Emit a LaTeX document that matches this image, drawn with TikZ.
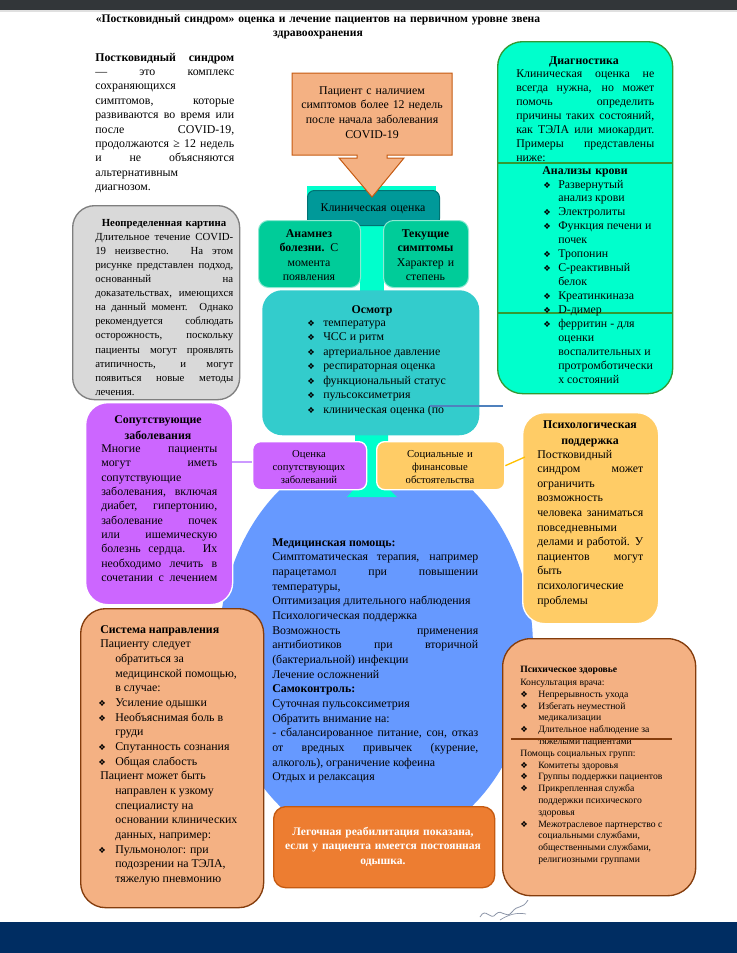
\documentclass[tikz,border=0pt]{standalone}
\usepackage{fontspec}
\setmainfont{Liberation Serif}
\newfontfamily\dejavu{DejaVu Sans}
\usetikzlibrary{positioning}

\definecolor{topbar}{HTML}{323639}
\definecolor{botbar}{HTML}{002D62}
\definecolor{aqua}{HTML}{00FFCC}
\definecolor{tealc}{HTML}{009999}
\definecolor{seag}{HTML}{00CC99}
\definecolor{turq}{HTML}{33CCCC}
\definecolor{leaf}{HTML}{339933}
\definecolor{greyf}{HTML}{D9D9D9}
\definecolor{greyd}{HTML}{7F7F7F}
\definecolor{purp}{HTML}{CC66FF}
\definecolor{lilac}{HTML}{CC99FF}
\definecolor{yell}{HTML}{FFCC66}
\definecolor{gold}{HTML}{FFC000}
\definecolor{bluef}{HTML}{6699FF}
\definecolor{steel}{HTML}{4F81BD}
\definecolor{peach}{HTML}{F4B183}
\definecolor{rust}{HTML}{843C0C}
\definecolor{orng}{HTML}{ED7D31}
\definecolor{orngd}{HTML}{C55A11}
\definecolor{ink}{HTML}{8A93A6}

\newlength\px
\setlength\px{0.75pt}
\newcommand\bul{{\dejavu\fontsize{6.3}{6.3}\selectfont ❖}}
\newcommand\fbody{\fontsize{8.9}{10.9}\selectfont}
\newcommand\fgrey{\fontsize{8.1}{10.6}\selectfont}
\newcommand\fsm{\fontsize{8}{9.9}\selectfont}
\newcommand\ftiny{\fontsize{7.25}{8.85}\selectfont}
\hbadness=10000
\hfuzz=4pt

\begin{document}
\begin{tikzpicture}[x=0.75pt, y=-0.75pt,
	box/.style={anchor=north west, inner sep=0pt, rounded corners=#1},
	para/.style={anchor=base west, inner sep=0pt, align=justify, text width=#1},
	lst/.style={anchor=base west, inner sep=0pt},
	ttl/.style={anchor=base, inner sep=0pt, align=center, text width=#1}]
	\useasboundingbox (0,0) rectangle (737,953);
	\fill[white] (0,0) rectangle (737,953);
	\fill[topbar] (0,0) rectangle (737,10);
	\fill[black!12] (0,10) rectangle (737,12);
	\fill[botbar] (0,922) rectangle (737,953);

	% title and definition
	\node[ttl=480\px, font=\fontsize{8.7}{11.2}\selectfont\bfseries] (title) at (318,22)
		{«Постковидный синдром» оценка и лечение пациентов на первичном уровне звена\\здравоохранения};
	\node[para=139\px, font=\fontsize{8.9}{10.8}\selectfont] (defn) at (95,61)
		{\textbf{Постковидный синдром}\linebreak — это комплекс\linebreak сохраняющихся\linebreak симптомов, которые\linebreak развиваются во время или\linebreak после COVID-19,\linebreak продолжаются ≥ 12 недель\linebreak и не объясняются\linebreak альтернативным\linebreak диагнозом.};

	% medical help (behind)
	\fill[bluef] (376,648) ellipse [x radius=157, y radius=200];
	\fill[aqua] (307,186) rectangle (436,232);
	\fill[aqua] (360,225) rectangle (384,300);
	\fill[aqua] (355,430) -- (388,430) -- (388,488) -- (397,497) -- (347,497) -- (355,488) -- cycle;

	% clinical assessment
	\node[box=7\px, fill=tealc, draw=tealc!75!black, line width=0.75pt, minimum width=132\px, minimum height=35\px] (clin) at (307,190) {};
	\node[ttl=130\px, font=\fbody] (clint) at (373,211) {Клиническая оценка};
	\node[box=10\px, fill=seag, draw=white!55!seag, line width=0.75pt, minimum width=102\px, minimum height=67\px] (anam) at (258,220) {};
	\node[ttl=100\px, font=\fbody] (anamt) at (309,237) {\textbf{Анамнез}\\\textbf{болезни.} С\\момента\\появления};
	\node[box=10\px, fill=seag, draw=white!55!seag, line width=0.75pt, minimum width=85\px, minimum height=67\px] (symp) at (383,220) {};
	\node[ttl=85\px, font=\fbody] (sympt) at (425.5,237) {\textbf{Текущие}\\\textbf{симптомы}\\Характер и\\степень};

	% patient
	\draw[fill=peach, draw=orngd, line width=0.75pt] (292,73) -- (452,73) -- (452,155) -- (387,155) -- (387,158)
		-- (404,158) -- (372,197) -- (339,158) -- (357,158) -- (357,155) -- (292,155) -- cycle;
	\node[ttl=160\px, font=\fontsize{8.9}{11}\selectfont] (pat) at (372,94) {Пациент с наличием\\симптомов более 12 недель\\после начала заболевания\\COVID-19};

	% examination
	\node[box=20\px, fill=turq, minimum width=217\px, minimum height=145\px] (exam) at (262,290) {};
	\node[ttl=200\px, font=\fbody\bfseries] (examt) at (372,313) {Осмотр};
	\node[lst, font=\fbody] (examl) at (307,326) {\begin{tabular}[t]{@{}p{16\px}@{}l@{}}
		\bul & температура\\
		\bul & ЧСС и ритм\\
		\bul & артериальное давление\\
		\bul & респираторная оценка\\
		\bul & функциональный статус\\
		\bul & пульсоксиметрия\\
		\bul & клиническая оценка (по
	\end{tabular}};
	\coordinate (ex1) at (430,406);
	\coordinate (dg1) at (503,406);
	\draw[steel, line width=0.9pt] (ex1) -- (dg1);

	% diagnostics
	\node[box=25\px, fill=aqua, draw=leaf, line width=1pt, minimum width=175\px, minimum height=352\px] (diag) at (497,41) {};
	\draw[leaf, line width=1.2pt] (diag.west |- 0,163) -- (diag.east |- 0,163);
	\draw[leaf, line width=1.2pt] (diag.west |- 0,313) -- (diag.east |- 0,313);
	\node[ttl=170\px, font=\fbody\bfseries] (diagt) at (584,64) {Диагностика};
	\node[para=138\px, font=\fontsize{8.9}{10.55}\selectfont] (diagp) at (516,77)
		{Клиническая оценка не\linebreak всегда нужна, но может\linebreak помочь определить\linebreak причины таких состояний,\linebreak как ТЭЛА или миокардит.\linebreak Примеры представлены\linebreak ниже:};
	\node[ttl=150\px, font=\fbody\bfseries] (bloodt) at (585,174) {Анализы крови};
	\node[lst, font=\fontsize{8.9}{10.45}\selectfont] (bloodl) at (543,188) {\begin{tabular}[t]{@{}p{15\px}@{}l@{}}
		\bul & Развернутый\\
		& анализ крови\\
		\bul & Электролиты\\
		\bul & Функция печени и\\
		& почек\\
		\bul & Тропонин\\
		\bul & С-реактивный\\
		& белок\\
		\bul & Креатинкиназа\\
		\bul & D-димер\\
		\bul & ферритин - для\\
		& оценки\\
		& воспалительных и\\
		& протромботически\\
		& х состояний
	\end{tabular}};

	% uncertain picture
	\node[box=22\px, fill=greyf, draw=greyd, line width=1pt, minimum width=167\px, minimum height=194\px] (uncl) at (72,205) {};
	\node[ttl=160\px, font=\fgrey\bfseries] (unclt) at (164,226) {Неопределенная картина};
	\node[para=138\px, font=\fgrey] (unclp) at (95,240)
		{Длительное течение COVID-\linebreak 19 неизвестно. На этом\linebreak рисунке представлен подход,\linebreak основанный на\linebreak доказательствах, имеющихся\linebreak на данный момент. Однако\linebreak рекомендуется соблюдать\linebreak осторожность, поскольку\linebreak пациенты могут проявлять\linebreak атипичность, и могут\linebreak появиться новые методы\linebreak лечения.};

	% comorbidities
	\node[box=22\px, fill=purp, draw=white, line width=1pt, minimum width=147\px, minimum height=202\px] (comorb) at (85,402) {};
	\node[ttl=140\px, font=\fontsize{8.9}{12}\selectfont\bfseries] (comorbt) at (158,423) {Сопутствующие\\заболевания};
	\node[para=116\px, font=\fontsize{8.9}{10.75}\selectfont] (comorbp) at (101,452.5)
		{Многие пациенты\linebreak могут иметь\linebreak сопутствующие\linebreak заболевания, включая\linebreak диабет, гипертонию,\linebreak заболевание почек\linebreak или ишемическую\linebreak болезнь сердца. Их\linebreak необходимо лечить в\linebreak сочетании с лечением\linebreak\null};
	\node[box=8\px, fill=purp, draw=white, line width=1pt, minimum width=114\px, minimum height=48\px] (cmbval) at (252,441) {};
	\node[ttl=110\px, font=\fsm] (cmbvalt) at (309,457) {Оценка\\сопутствующих\\заболеваний};
	\coordinate (cm1) at (232,462);
	\draw[lilac, line width=1pt] (cm1) -- (cmbval.west |- cm1);

	% social
	\node[box=8\px, fill=yell, draw=white, line width=1pt, minimum width=128\px, minimum height=48\px] (soc) at (376,441) {};
	\node[ttl=125\px, font=\fsm] (soct) at (440,457) {Социальные и\\финансовые\\обстоятельства};

	% psychological support
	\node[box=22\px, fill=yell, draw=white, line width=1pt, minimum width=136\px, minimum height=211\px] (psy) at (522,412) {};
	\node[ttl=130\px, font=\fontsize{8.9}{12}\selectfont\bfseries] (psyt) at (590,428) {Психологическая\\поддержка};
	\node[para=106\px, font=\fontsize{8.9}{10.95}\selectfont] (psyp) at (537,458)
		{Постковидный\linebreak синдром может\linebreak ограничить\linebreak возможность\linebreak человека заниматься\linebreak повседневными\linebreak делами и работой. У\linebreak пациентов могут\linebreak быть\linebreak психологические\linebreak проблемы};
	\coordinate (ps1) at (525,457);
	\draw[gold, line width=1pt] (soc.east) -- (ps1);

	% medical help text
	\node[para=206\px, font=\fontsize{8.9}{11}\selectfont] (medp) at (272,546)
		{\textbf{Медицинская помощь:}\par
		Симптоматическая терапия, например\linebreak парацетамол при повышении\linebreak температуры,\par
		Оптимизация длительного наблюдения\par
		Психологическая поддержка\par
		Возможность применения\linebreak антибиотиков при вторичной\linebreak (бактериальной) инфекции\par
		Лечение осложнений\par
		\textbf{Самоконтроль:}\par
		Суточная пульсоксиметрия\par
		Обратить внимание на:\par
		- сбалансированное питание, сон, отказ\linebreak от вредных привычек (курение,\linebreak алкоголь), ограничение кофеина\par
		Отдых и релаксация};

	% rehabilitation
	\node[box=12\px, fill=orng, draw=orngd, line width=1pt, minimum width=221\px, minimum height=81\px] (rehab) at (273,806) {};
	\node[ttl=215\px, font=\fontsize{8.65}{10.9}\selectfont\bfseries, text=white] (rehabt) at (383,835)
		{Легочная реабилитация показана,\\если у пациента имеется постоянная\\одышка.};

	% referral
	\node[box=25\px, fill=peach, draw=rust, line width=1pt, minimum width=183\px, minimum height=299\px] (refer) at (80,608) {};
	\node[lst, font=\fontsize{8.9}{11}\selectfont] (referl) at (98,633) {\begin{tabular}[t]{@{}p{17\px}@{}l@{}}
		\multicolumn{2}{@{\hspace{2\px}}l@{}}{\textbf{Система направления}}\\
		\multicolumn{2}{@{\hspace{2\px}}l@{}}{Пациенту следует}\\
		& обратиться за\\
		& медицинской помощью,\\
		& в случае:\\
		\bul & Усиление одышки\\
		\bul & Необъяснимая боль в\\
		& груди\\
		\bul & Спутанность сознания\\
		\bul & Общая слабость\\
		\multicolumn{2}{@{\hspace{2\px}}l@{}}{Пациент может быть}\\
		& направлен к узкому\\
		& специалисту на\\
		& основании клинических\\
		& данных, например:\\
		\bul & Пульмонолог: при\\
		& подозрении на ТЭЛА,\\
		& тяжелую пневмонию
	\end{tabular}};

	% mental health
	\node[box=28\px, fill=peach, draw=rust, line width=1pt, minimum width=193\px, minimum height=257\px] (mental) at (502,638) {};
	\node[lst, font=\ftiny] (mentall) at (520,672) {\begin{tabular}[t]{@{}p{18\px}@{}l@{}}
		\multicolumn{2}{@{}l@{}}{\textbf{Психическое здоровье}}\\[1.2pt]
		\multicolumn{2}{@{}l@{}}{Консультация врача:}\\
		\bul & Непрерывность ухода\\
		\bul & Избегать неуместной\\
		& медикализации\\
		\bul & Длительное наблюдение за\\
		& тяжелыми пациентами\\
		\multicolumn{2}{@{}l@{}}{Помощь социальных групп:}\\
		\bul & Комитеты здоровья\\
		\bul & Группы поддержки пациентов\\
		\bul & Прикрепленная служба\\
		& поддержки психического\\
		& здоровья\\
		\bul & Межотраслевое партнерство с\\
		& социальными службами,\\
		& общественными службами,\\
		& религиозными группами
	\end{tabular}};
	\draw[rust, line width=1.5pt] (mental.west |- 0,739) ++(9,0) -- (672,739);

	% signature
	\draw[ink, line width=0.6pt] (480,917) .. controls (486,906) and (490,922) .. (496,914)
		.. controls (502,908) and (506,920) .. (512,912) .. controls (518,904) and (522,910) .. (528,900);
	\draw[ink, line width=0.5pt] (500,920) .. controls (508,915) and (516,912) .. (526,914);
\end{tikzpicture}
\end{document}
